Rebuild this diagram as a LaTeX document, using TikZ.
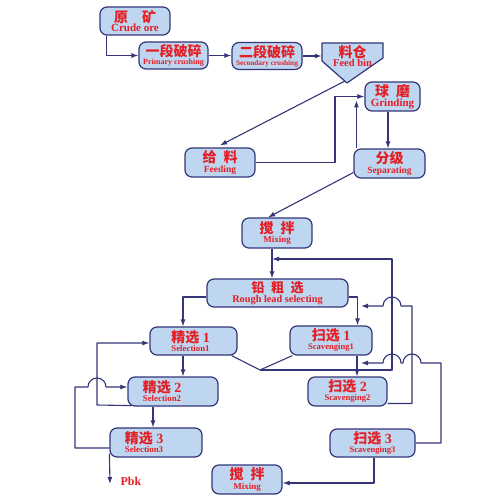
\documentclass[tikz,border=0pt]{standalone}
\usepackage{fontspec}
\newfontfamily\cnf{Noto Sans CJK SC}
\newfontfamily\enf{Liberation Serif}
\usetikzlibrary{arrows.meta,calc}
\definecolor{navy}{RGB}{52,54,120}
\definecolor{txtred}{RGB}{228,30,36}
\definecolor{boxblue}{RGB}{190,214,240}
\newcommand{\cnx}[2]{{\cnf\bfseries\fontsize{#1pt}{#1pt}\selectfont #2}}
\newcommand{\enx}[2]{{\enf\bfseries\fontsize{#1pt}{#1pt}\selectfont #2}}
\newcommand{\lft}[2]{\hbox{#2\kern#1}}
\begin{document}
\begin{tikzpicture}[x=1pt,y=-1pt,
  proc/.style={draw=navy, line width=1.2pt, fill=boxblue, rounded corners=7pt,
    inner sep=0pt, align=center, text=txtred, font=\fontsize{10pt}{12pt}\selectfont},
  con/.style={draw=navy, line width=1.1pt, line join=round},
  arr/.style={con, -{Latex[length=7pt,width=5pt]}}]
\useasboundingbox (0,0) rectangle (500,500);
\fill[white] (0,0) rectangle (500,500);

% boxes
\node[proc,minimum width=70pt,minimum height=28pt] (crude) at (135,21)
  {\cnx{14}{原\quad 矿}\\[-2.5pt]\enx{11}{Crude ore}};
\node[proc,minimum width=69pt,minimum height=27pt] (prim) at (173.5,55.5)
  {\cnx{14}{一段破碎}\\[-3.5pt]\enx{8}{Primary crushing}};
\node[proc,minimum width=70pt,minimum height=27pt] (sec) at (267,56)
  {\cnx{14}{二段破碎}\\[-3.5pt]\enx{7.3}{Secondary crushing}};
\filldraw[draw=navy, line width=1.2pt, fill=boxblue, line join=round]
  (322,43) -- (383,43) -- (383,58) -- (347,83) -- (322,61) -- cycle;
\node[inner sep=0pt, minimum width=61pt, align=center, text=txtred,
  font=\fontsize{10pt}{12pt}\selectfont] (bin) at (352.5,56)
  {\cnx{14}{料仓}\\[-3pt]\enx{10.5}{Feed bin}};
\coordinate (bintip) at (345,81);
\node[proc,minimum width=55pt,minimum height=29pt] (grind) at (392.5,96.5)
  {\cnx{14}{球\enspace 磨}\\[-2.5pt]\enx{11}{Grinding}};
\node[proc,minimum width=70pt,minimum height=29pt] (feed) at (220,162.5)
  {\cnx{14}{给\enspace 料}\\[-2.5pt]\enx{9.5}{Feeding}};
\node[proc,minimum width=71pt,minimum height=29pt] (sep) at (389.5,163.5)
  {\cnx{14}{分级}\\[-2.5pt]\enx{9.5}{Separating}};
\node[proc,minimum width=70pt,minimum height=30pt] (mix1) at (277,233)
  {\cnx{14}{搅\enspace 拌}\\[-2.5pt]\enx{9}{Mixing}};
\node[proc,minimum width=141pt,minimum height=28pt] (rough) at (277.5,293)
  {\cnx{13}{铅\enspace 粗\enspace 选}\\[-2.5pt]\enx{10.3}{Rough lead selecting}};
\node[proc,minimum width=87pt,minimum height=28pt] (sel1) at (193.5,341)
  {\lft{6pt}{\cnx{14}{精选}\enx{14}{ 1}}\\[-3pt]\lft{6pt}{\enx{8.8}{Selection1}}};
\node[proc,minimum width=90pt,minimum height=29pt] (sel2) at (173,391.5)
  {\lft{22pt}{\cnx{14}{精选}\enx{14}{ 2}}\\[-3pt]\lft{22pt}{\enx{8.8}{Selection2}}};
\node[proc,minimum width=92pt,minimum height=29pt] (sel3) at (156,442.5)
  {\lft{24pt}{\cnx{14}{精选}\enx{14}{ 3}}\\[-3pt]\lft{24pt}{\enx{8.8}{Selection3}}};
\node[proc,minimum width=82pt,minimum height=29pt] (scav1) at (331,340.5)
  {\cnx{14}{扫选}\enx{14}{ 1}\\[-3pt]\enx{8.6}{Scavenging1}};
\node[proc,minimum width=79pt,minimum height=29pt] (scav2) at (347.5,391.5)
  {\cnx{14}{扫选}\enx{14}{ 2}\\[-3pt]\enx{8.6}{Scavenging2}};
\node[proc,minimum width=85pt,minimum height=28pt] (scav3) at (372.5,443)
  {\cnx{14}{扫选}\enx{14}{ 3}\\[-3pt]\enx{8.6}{Scavenging3}};
\node[proc,minimum width=70pt,minimum height=29pt] (mix2) at (247,479.5)
  {\cnx{14}{搅\enspace 拌}\\[-2.5pt]\enx{9}{Mixing}};
\node[inner sep=0pt, text=txtred] (pbk) at (131,481) {\enx{12}{Pbk}};

% connectors: crushing and grinding
\draw[arr] ([xshift=7pt]crude.south west) |- (prim.west);
\draw[arr] (prim.east) -- (prim.east -| sec.west);
\draw[arr] (sec.east) -- (sec.east -| bin.west);
\draw[arr] (bintip) -- ([yshift=2pt]feed.north);
\coordinate (j1) at (335,96.5);
\draw[arr] (feed.east) -| (j1) -- (grind.west);
\draw[arr] ([xshift=-4.5pt]grind.south) -- ([xshift=-4.5pt]grind.south |- sep.north);
\draw[arr] ([xshift=3pt]sep.north west) -- ++(0,-48);
\draw[arr] ([yshift=-9pt]sep.west) -- ([xshift=-9pt]mix1.north);
\coordinate (mline) at ([xshift=-5pt]mix1.south);
\draw[arr] (mline) -- (mline |- rough.north);

% rough / selection / scavenging
\draw[arr] ([yshift=-4pt]rough.west) -| ([xshift=-10.5pt]sel1.north);
\draw[arr] ([yshift=-4pt]rough.east) -| ([xshift=26.5pt]scav1.north);
\draw[arr] ([xshift=-10.5pt]sel1.south) -- ([xshift=-10.5pt]sel1.south |- sel2.north);
\draw[arr] ([xshift=-20pt]sel2.south) -- ([xshift=-20pt]sel2.south |- sel3.north);
\draw[arr] ([xshift=26pt]scav1.south) -- ([xshift=26pt]scav1.south |- scav2.north);

% middlings back to rough
\coordinate (v) at (260,370);
\coordinate (r1) at (392,370);
\coordinate (r2) at (392,259);
\draw[con] ([xshift=-6pt]sel1.south east) -- (v) -- ([xshift=3pt]scav1.south west);
\draw[arr] (v) -- (r1) -- (r2) -- (r2 -| mline);

% scavenging 2 back to scavenging 1
\coordinate (s2a) at (412,403.5);
\coordinate (s2b) at (412,306);
\draw[arr] ([yshift=-12pt]scav2.east) -- (s2a) -- (s2b) -- (401,306)
  arc[start angle=0,end angle=180,radius=9pt] -- (361,306);

% scavenging 3 back to scavenging 2
\coordinate (s3a) at (441,443);
\coordinate (s3b) at (441,363);
\draw[arr] (scav3.east) -- (s3a) -- (s3b) -- (421,363)
  arc[start angle=0,end angle=180,radius=9pt] -- (401,363)
  arc[start angle=0,end angle=180,radius=9pt] -- (361,363);

% scavenging 3 to mixing
\draw[arr] ([xshift=1.5pt]scav3.south) |- ([yshift=-3.5pt]mix2.east);

% selection 2 back to selection 1
\coordinate (l1) at (97,405);
\draw[arr] ([shift={(4pt,1pt)}]sel2.south west) -- (l1) |- ([yshift=-2pt]sel1.west);

% selection 3 back to selection 2
\coordinate (l2) at (75,448);
\coordinate (l3) at (75,387);
\draw[arr] ([yshift=-5.5pt]sel3.west) -- (l2) -- (l3) -- (88,387)
  arc[start angle=180,end angle=0,radius=9pt] -- ([yshift=4.5pt]sel2.west);

% selection 3 concentrate
\coordinate (pbkin) at (110,484);
\draw[arr] ([yshift=4pt]sel3.south west) -- (pbkin);
\end{tikzpicture}
\end{document}
